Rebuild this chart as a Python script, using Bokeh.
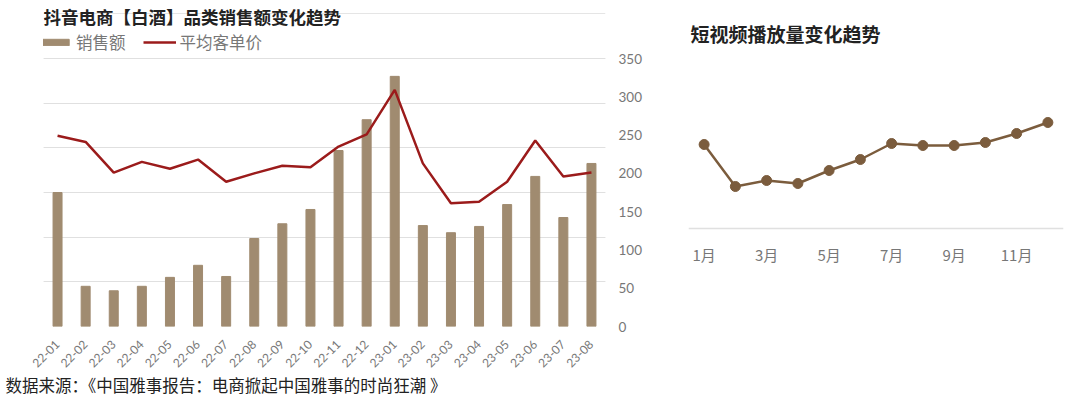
import math
from bokeh.plotting import figure
from bokeh.models import (FactorRange, Range1d, LinearAxis, FixedTicker, Grid,
                          Legend, LegendItem, Label, Title)
from bokeh.layouts import row
from bokeh.embed import file_html
from bokeh.resources import INLINE

# ---------------- data ----------------
months = ["22-01", "22-02", "22-03", "22-04", "22-05", "22-06", "22-07", "22-08",
          "22-09", "22-10", "22-11", "22-12", "23-01", "23-02", "23-03", "23-04",
          "23-05", "23-06", "23-07", "23-08"]
sales = [3.0, 0.9, 0.8, 0.9, 1.1, 1.37, 1.12, 1.97, 2.3, 2.62,
         3.94, 4.63, 5.6, 2.26, 2.1, 2.24, 2.73, 3.36, 2.44, 3.65]
avg_price = [249, 241, 201, 215, 206, 218, 189, 200, 210, 208,
             235, 251, 309, 213, 161, 163, 189, 243, 196, 201]
price_ticks = [0, 50, 100, 150, 200, 250, 300, 350]
sales_grid = [0, 1, 2, 3, 4, 5, 6]

video_month = [1, 2, 3, 4, 5, 6, 7, 8, 9, 10, 11, 12]
video_plays = [84, 42, 48, 45, 58, 69, 85, 83, 83, 86, 95, 106]
video_ticks = [1, 3, 5, 7, 9, 11]
video_tick_labels = {1: "1月", 3: "3月", 5: "5月", 7: "7月", 9: "9月", 11: "11月"}

CJK = "Noto Sans CJK SC"
BAR = "#a08b70"
RED = "#9b1b1b"
BROWN = "#7b5c3d"
GRID = "#e0e0e0"
TICK = "#777777"

FRAME_H = 326          # frame spans from the top of the canvas to the zero line
PLOT_H = 268           # pixels used by the value gridlines (0..6 / 0..350)
extend = FRAME_H / PLOT_H

# ---------------- left chart ----------------
p1 = figure(frame_width=562, frame_height=FRAME_H,
            x_range=FactorRange(*months), y_range=Range1d(0, 6 * extend),
            output_backend="svg", toolbar_location=None, y_axis_location=None,
            min_border_left=43, min_border_right=63, min_border_top=0, min_border_bottom=71)
p1.outline_line_color = None
p1.xgrid.visible = False
p1.add_layout(Grid(dimension=1, ticker=FixedTicker(ticks=sales_grid),
                   grid_line_color=GRID, grid_line_width=1))

p1.extra_y_ranges = {"price": Range1d(0, 350 * extend)}
ax_r = LinearAxis(y_range_name="price", ticker=FixedTicker(ticks=price_ticks))
ax_r.axis_line_color = None
ax_r.major_tick_line_color = None
ax_r.minor_tick_line_color = None
ax_r.major_label_standoff = 7
ax_r.major_label_text_font = "Lato"
ax_r.major_label_text_font_size = "13.5px"
ax_r.major_label_text_color = TICK
p1.add_layout(ax_r, "right")

xa = p1.xaxis[0]
xa.axis_line_color = None
xa.major_tick_line_color = None
xa.minor_tick_line_color = None
xa.major_label_orientation = math.pi / 4
xa.major_label_standoff = 10
xa.major_label_text_font = "Lato"
xa.major_label_text_font_size = "12px"
xa.major_label_text_color = TICK

bars = p1.vbar(x=months, top=sales, width=0.32, color=BAR)
line = p1.line(months, avg_price, y_range_name="price", color=RED, line_width=2.5)

legend = Legend(items=[LegendItem(label="销售额", renderers=[bars]),
                       LegendItem(label="平均客单价", renderers=[line])],
                orientation="horizontal", location=(-4, FRAME_H - 54),
                glyph_width=33, glyph_height=8, label_standoff=4, spacing=17,
                label_text_font=CJK, label_text_font_size="16.5px", label_text_color=TICK,
                border_line_color=None, background_fill_alpha=0, padding=0, margin=0)
p1.add_layout(legend, "center")

p1.add_layout(Label(x=0, y=FRAME_H - 15.5, x_units="screen", y_units="screen",
                    text="抖音电商【白酒】品类销售额变化趋势", text_font=CJK,
                    text_font_size="17.5px", text_font_style="bold", text_color="#222222",
                    text_baseline="middle"))
p1.add_layout(Title(text="数据来源：《中国雅事报告：电商掀起中国雅事的时尚狂潮 》",
                    align="left", offset=-38, standoff=-6, text_font=CJK,
                    text_font_size="16.5px", text_font_style="normal",
                    text_color="#222222"), "below")

# ---------------- right chart ----------------
p2 = figure(frame_width=375, frame_height=FRAME_H,
            x_range=Range1d(0.5, 12.5), y_range=Range1d(228 - FRAME_H, 228),
            output_backend="svg", toolbar_location=None, y_axis_location=None,
            x_axis_location=None,
            min_border_left=20, min_border_right=12, min_border_top=0, min_border_bottom=71)
p2.outline_line_color = None
p2.xgrid.visible = False
p2.ygrid.visible = False
xb = LinearAxis(ticker=FixedTicker(ticks=video_ticks), fixed_location=0)
xb.major_label_overrides = video_tick_labels
xb.axis_line_color = "#e0e0e0"
xb.axis_line_width = 1.5
xb.major_tick_line_color = None
xb.minor_tick_line_color = None
xb.major_label_standoff = 9
xb.major_label_text_font = CJK
xb.major_label_text_font_size = "15px"
xb.major_label_text_color = TICK
p2.add_layout(xb, "below")

p2.line(video_month, video_plays, color=BROWN, line_width=2.5)
p2.scatter(video_month, video_plays, size=10, color=BROWN)

p2.add_layout(Label(x=2, y=FRAME_H - 33, x_units="screen", y_units="screen",
                    text="短视频播放量变化趋势", text_font=CJK,
                    text_font_size="19px", text_font_style="bold", text_color="#222222",
                    text_baseline="middle"))

layout = row(p1, p2)
open("out.html", "w").write(file_html(layout, INLINE))
